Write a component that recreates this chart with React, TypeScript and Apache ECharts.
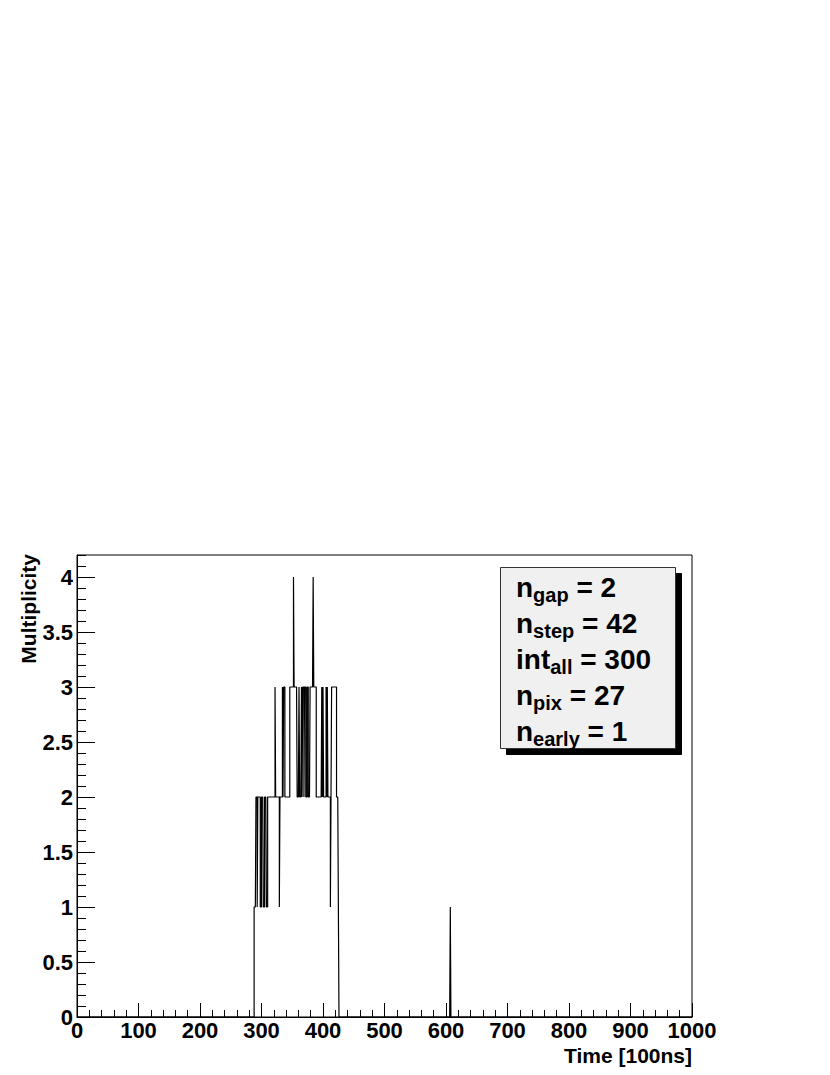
import React, { useEffect, useRef } from 'react';
import * as echarts from 'echarts';

// Histogram: 1000 bins of width 1 on [0, 1000]
const nBins = 1000;
const firstBin = 288;
// counts of bins 288 .. 425
const counts = [
  1, 1, 1, 2, 2, 1, 2, 2, 2, 2,
  1, 1, 2, 2, 2, 1, 1, 2, 2, 2,
  1, 1, 2, 2, 2, 2, 2, 2, 2, 2,
  2, 2, 2, 2, 3, 2, 2, 2, 2, 2,
  2, 1, 2, 2, 2, 2, 3, 2, 3, 3,
  2, 2, 2, 2, 2, 2, 2, 2, 3, 3,
  3, 3, 3, 3, 4, 3, 3, 3, 3, 3,
  2, 2, 2, 3, 2, 2, 2, 3, 2, 3,
  3, 2, 3, 3, 2, 2, 3, 3, 2, 2,
  2, 3, 3, 3, 3, 3, 4, 3, 3, 3,
  3, 2, 2, 2, 2, 2, 2, 2, 2, 2,
  3, 2, 3, 2, 2, 2, 2, 3, 2, 3,
  2, 2, 2, 2, 1, 2, 3, 3, 3, 3,
  3, 3, 3, 3, 2, 2, 2, 1,
];
const spikeBins = [607];
const spikeCounts = [1];

const xMin = 0;
const xMax = 1000;
const xMajor = 100;
const yMin = 0;
const yMax = 4.2;
const yMajor = 0.5;
const yMinor = 0.1;

const xTitle = 'Time [100ns]';
const yTitle = 'Multiplicity';

const statNames = ['n', 'n', 'int', 'n', 'n'];
const statSubs = ['gap', 'step', 'all', 'pix', 'early'];
const statValues = ['2', '42', '300', '27', '1'];

const FONT = '"Liberation Sans", Arial, Helvetica, sans-serif';

export default function App() {
  const ref = useRef<HTMLDivElement>(null);
  useEffect(() => {
    const chart = echarts.init(ref.current!, null, { renderer: 'svg' });
    const hist: number[] = new Array(nBins).fill(0);
    counts.forEach((c, i) => { hist[firstBin + i] = c; });
    spikeBins.forEach((b, i) => { hist[b] = spikeCounts[i]; });
    const data: number[][] = hist.map((v, i) => [i, v]);
    data.push([nBins, hist[nBins - 1]]);

    const statText = statNames
      .map((n, i) => `{b|${n}}{s|${statSubs[i]}}{b| = ${statValues[i]}}`)
      .join('\n');

    const gL = 77, gT = 555, gW = 615, gH = 462;

    chart.setOption({
      animation: false,
      backgroundColor: '#fff',
      grid: {
        left: gL, top: gT, width: gW, height: gH,
        show: true, borderColor: '#000', borderWidth: 1, backgroundColor: 'transparent',
      },
      xAxis: [{
        type: 'value', min: xMin, max: xMax, interval: xMajor,
        axisLine: { show: true, lineStyle: { color: '#000', width: 1 } },
        axisTick: { show: true, inside: true, length: 14, lineStyle: { color: '#000', width: 1 } },
        minorTick: { show: true, splitNumber: 5, length: 7, lineStyle: { color: '#000', width: 1 } },
        splitLine: { show: false },
        minorSplitLine: { show: false },
        axisLabel: {
          color: '#000', fontFamily: FONT, fontWeight: 'bold', fontSize: 22, margin: 2,
          lineHeight: 22,
          formatter: (v: number) => String(v),
        },
      }],
      yAxis: [{
        type: 'value', min: yMin, max: yMax, interval: yMajor,
        axisLine: { show: true, lineStyle: { color: '#000', width: 1 } },
        axisTick: { show: true, inside: true, length: 18, lineStyle: { color: '#000', width: 1 } },
        splitLine: { show: false },
        axisLabel: {
          color: '#000', fontFamily: FONT, fontWeight: 'bold', fontSize: 22, margin: 4,
          showMaxLabel: false,
          formatter: (v: number) => {
            const r = Math.round(v / yMajor) * yMajor;
            return Math.abs(r - v) < 1e-6 ? String(+r.toFixed(1)) : '';
          },
        },
      }, {
        type: 'value', min: yMin, max: yMax, interval: yMinor, position: 'left',
        axisLine: { show: false },
        axisTick: { show: true, inside: true, length: 9, lineStyle: { color: '#000', width: 1 } },
        splitLine: { show: false },
        axisLabel: { show: false },
      }],
      series: [{
        type: 'line', step: 'end', data, xAxisIndex: 0, yAxisIndex: 0,
        showSymbol: false, symbol: 'none',
        lineStyle: { color: '#000', width: 1.2 },
        clip: true,
      }],
      graphic: [
        {
          type: 'text', x: 28, y: gT - 1, rotation: Math.PI / 2,
          style: {
            text: yTitle, fill: '#000', font: `bold 21px ${FONT}`,
            align: 'right', verticalAlign: 'middle',
          },
        },
        {
          type: 'text', x: gL + gW, y: 1045,
          style: {
            text: xTitle, fill: '#000', font: `bold 21px ${FONT}`,
            align: 'right', verticalAlign: 'top',
          },
        },
        {
          type: 'rect', shape: { x: 506.5, y: 573.5, width: 175, height: 181 },
          style: { fill: '#000', stroke: '#000', lineWidth: 1 },
        },
        {
          type: 'rect', shape: { x: 500.5, y: 567.5, width: 175, height: 181 },
          style: { fill: '#f0f0f0', stroke: '#333', lineWidth: 1 },
        },
        {
          type: 'text', x: 516, y: 569,
          style: {
            text: statText, fill: '#000', align: 'left', verticalAlign: 'top',
            rich: {
              b: { fontSize: 28, fontWeight: 'bold', fontFamily: FONT, lineHeight: 36, fill: '#000' },
              s: { fontSize: 20, fontWeight: 'bold', fontFamily: FONT, lineHeight: 20, verticalAlign: 'bottom', fill: '#000' },
            },
          },
        },
      ],
    });
    return () => chart.dispose();
  }, []);
  return (
    <div
      ref={ref}
      style={{ position: 'fixed', left: 0, top: 0, width: 830, height: 1075, background: '#fff' }}
    />
  );
}
